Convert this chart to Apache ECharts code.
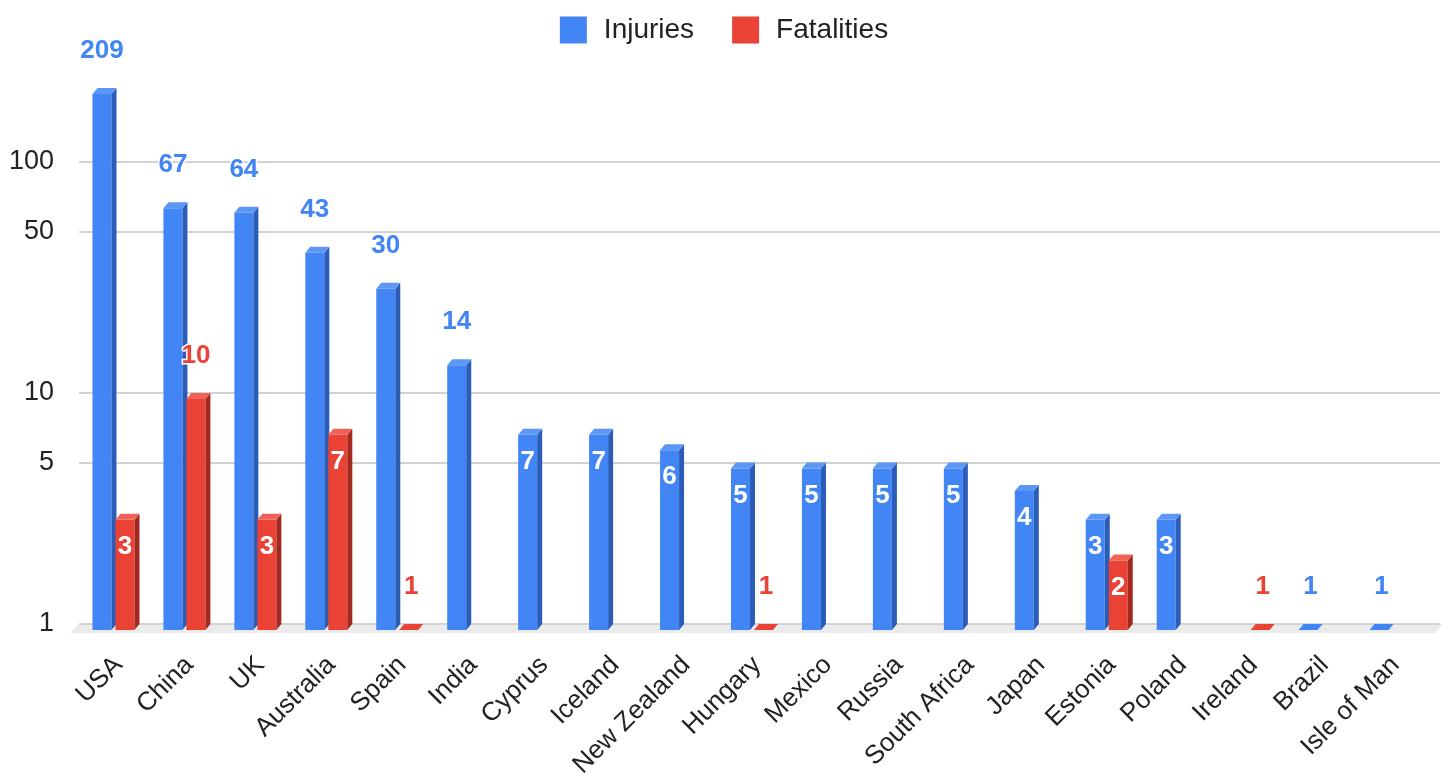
<!DOCTYPE html>
<html>
<head>
<meta charset="utf-8">
<script src="https://cdn.jsdelivr.net/npm/echarts@6/dist/echarts.min.js"></script>
<style>
  html, body { margin: 0; padding: 0; background: #fff; }
  #chart { width: 1448px; height: 779px; }
</style>
</head>
<body>
<div id="chart"></div>
<script>
const countries = ['USA', 'China', 'UK', 'Australia', 'Spain', 'India', 'Cyprus', 'Iceland', 'New Zealand',
  'Hungary', 'Mexico', 'Russia', 'South Africa', 'Japan', 'Estonia', 'Poland', 'Ireland', 'Brazil', 'Isle of Man']
const injuries = [209, 67, 64, 43, 30, 14, 7, 7, 6, 5, 5, 5, 5, 4, 3, 3, null, 1, 1]
const fatalities = [3, 10, 3, 7, 1, null, null, null, null, 1, null, null, null, null, 2, null, 1, null, null]
const yTicks = [1, 5, 10, 50, 100]
const yMax = 300

const FONT = '"Liberation Sans", Arial, sans-serif'
const blue = { front: '#4285f4', side: '#2b5cb8', top: '#5d97f6', label: '#4285f4' }
const red = { front: '#ea4335', side: '#a3281f', top: '#ef6258', label: '#ea4335' }

// depth of the fake 3d box (px)
const DX = 5
const DY = 6

function bar3d(side, pal) {
  return function (params, api) {
    const v = api.value(1)
    if (v == null || isNaN(v)) return
    const idx = api.value(0)
    const top = api.coord([idx, v])
    const base = api.coord([idx, 1])
    const bw = api.size([1, 0])[0]
    const w = bw * 0.268
    const gap = bw * 0.028
    const backX = side < 0 ? top[0] - gap - w : top[0] + gap
    const fx = backX - DX
    const fTop = top[1] + DY
    const fBot = base[1] + DY
    const flat = fBot - fTop <= 0.5
    const children = []
    if (!flat) {
      children.push({ type: 'rect', shape: { x: fx, y: fTop, width: w, height: fBot - fTop }, style: { fill: pal.front } })
      children.push({
        type: 'polygon',
        shape: { points: [[fx + w, fTop], [fx + w + DX, top[1]], [fx + w + DX, base[1]], [fx + w, fBot]] },
        style: { fill: pal.side }
      })
    }
    children.push({
      type: 'polygon',
      shape: { points: [[fx, fTop], [fx + DX, top[1]], [fx + w + DX, top[1]], [fx + w, fTop]] },
      style: { fill: flat ? pal.front : pal.top }
    })
    // small values get a white label inside the bar, the rest sit above it
    const inside = v > 1 && v < 10
    children.push({
      type: 'text',
      z2: 100,
      style: {
        text: String(v),
        x: fx + w / 2 + (flat ? DX / 2 : 0),
        y: inside ? top[1] + 33 : top[1] - 37,
        align: 'center',
        verticalAlign: 'middle',
        font: 'bold 26px ' + FONT,
        fill: inside ? '#fff' : pal.label,
        stroke: inside ? pal.front : '#fff',
        lineWidth: inside ? 2 : 3,
        strokeFirst: true
      }
    })
    return { type: 'group', children }
  }
}

function toData(arr) {
  return arr.map((v, i) => (v == null ? [i, '-'] : [i, v]))
}

const chart = echarts.init(document.getElementById('chart'))

const gridTop = 51.8
const gridBottom = 155

chart.setOption({
  backgroundColor: '#fff',
  animation: false,
  legend: {
    top: 11,
    left: 'center',
    itemWidth: 27,
    itemHeight: 27,
    itemGap: 38,
    icon: 'rect',
    textStyle: { fontSize: 28, color: '#222', fontFamily: FONT, padding: [0, 0, 0, 12] },
    data: ['Injuries', 'Fatalities']
  },
  graphic: [
    {
      type: 'polygon',
      z: -10,
      silent: true,
      shape: { points: [[79, 624], [1443, 624], [1435, 633], [70, 633]] },
      style: { fill: '#ebebeb' }
    }
  ],
  grid: [
    { left: 79, right: 8, top: gridTop, bottom: gridBottom, outerBoundsMode: 'none' },
    { left: 83, right: 17, top: gridTop, bottom: gridBottom, outerBoundsMode: 'none' }
  ],
  xAxis: [
    { type: 'value', gridIndex: 0, show: false, min: 0, max: 1 },
    {
      type: 'category',
      gridIndex: 1,
      data: countries,
      axisLine: { show: false },
      axisTick: { show: false },
      axisLabel: { interval: 0, rotate: 45, margin: 37, fontSize: 26, color: '#222', fontFamily: FONT }
    }
  ],
  yAxis: [
    {
      type: 'value',
      gridIndex: 0,
      min: 0,
      max: Math.log10(yMax),
      axisLine: { show: false },
      axisTick: { show: false, customValues: yTicks.map(t => Math.log10(t)) },
      axisLabel: {
        customValues: yTicks.map(t => Math.log10(t)),
        formatter: v => String(Math.round(Math.pow(10, v))),
        margin: 25,
        fontSize: 27,
        color: '#222',
        fontFamily: FONT
      },
      splitLine: { show: true, lineStyle: { color: '#d2d2d2', width: 2 } }
    },
    { type: 'log', gridIndex: 1, min: 1, max: yMax, show: false, splitLine: { show: false } }
  ],
  series: [
    {
      name: 'Injuries',
      type: 'custom',
      xAxisIndex: 1,
      yAxisIndex: 1,
      itemStyle: { color: blue.front },
      renderItem: bar3d(-1, blue),
      data: toData(injuries)
    },
    {
      name: 'Fatalities',
      type: 'custom',
      xAxisIndex: 1,
      yAxisIndex: 1,
      itemStyle: { color: red.front },
      renderItem: bar3d(1, red),
      data: toData(fatalities)
    }
  ]
})
</script>
</body>
</html>
